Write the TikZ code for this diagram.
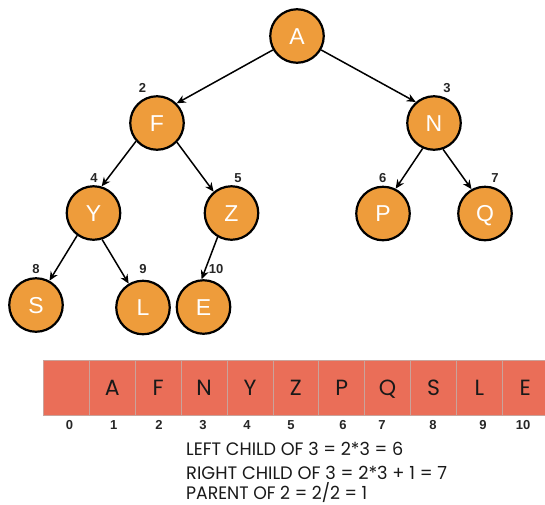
\documentclass[tikz,border=0pt]{standalone}
\usepackage{fontspec}
\setmainfont{Liberation Sans}
\newfontfamily\geo{Poppins}
\usetikzlibrary{arrows.meta}
\definecolor{orng}{HTML}{EE9C3B}
\definecolor{salm}{HTML}{EA6E58}
\definecolor{cellline}{HTML}{C9A39B}
\begin{document}
\begin{tikzpicture}[x=1pt,y=-1pt,
 treenode/.style={circle,draw=black,line width=2.2pt,fill=orng,minimum size=53.5pt,inner sep=0pt,text=white,font=\fontsize{23}{23}\selectfont,text height=16.4pt,text depth=0pt},
 idx/.style={font=\bfseries\fontsize{13}{13}\selectfont,text=black!85,inner sep=0pt},
 edgearrow/.style={line width=1.5pt,-{Stealth[length=9pt,width=8pt]}},
 cell/.style={rectangle,draw=cellline,line width=0.8pt,fill=salm,minimum width=45.9pt,minimum height=55pt,inner sep=0pt,font=\geo\fontsize{22}{22}\selectfont,text=black!90,text height=15.5pt,text depth=0pt},
 formula/.style={anchor=base west,inner sep=0pt,text=black!90}
 ]
\useasboundingbox (0,0) rectangle (545,504);
\clip (0,0) rectangle (545,504);
% tree
\node[treenode] (A) at (297,36) {A};
\node[treenode] (F) at (157,123) {F};
\node[treenode] (N) at (434,123) {N};
\node[treenode] (Y) at (93.5,213) {Y};
\node[treenode] (Z) at (231.5,213) {Z};
\node[treenode] (P) at (383,213.5) {P};
\node[treenode] (Q) at (485,213.5) {Q};
\node[treenode] (S) at (36,305) {S};
\node[treenode] (L) at (143,307.5) {L};
\node[treenode] (E) at (203.5,307) {E};
% index labels on tree
\node[idx] (l2) at (142.5,88) {2};
\node[idx] (l3) at (447,88) {3};
\node[idx] (l4) at (94,178) {4};
\node[idx] (l5) at (238,178) {5};
\node[idx] (l6) at (382.7,178) {6};
\node[idx] (l7) at (495,178) {7};
\node[idx] (l8) at (36,269) {8};
\node[idx] (l9) at (143,269) {9};
\node[idx] (l10) at (216,269) {10};
% edges
\draw[edgearrow] (A.210) -- (F.45);
\draw[edgearrow] (A.330) -- (N.131);
\draw[edgearrow] (F.221) -- (Y.73);
\draw[edgearrow] (F.316) -- (Z.130);
\draw[edgearrow] (N.246) -- (P.63);
\draw[edgearrow] (N.289) -- (Q.119);
\draw[edgearrow] (Y.234) -- (S.61);
\draw[edgearrow] (Y.288) -- (L.121);
\draw[edgearrow] (Z.240) -- (E.94);
% array
\foreach \i/\t in {0/{},1/A,2/F,3/N,4/Y,5/Z,6/P,7/Q,8/S,9/L,10/E}{
  \node[cell] (c\i) at ({43.4+45.9*(\i+0.5)},387.5) {\t};
}
% array indices
\foreach \i/\x in {0/69.5,1/113.7,2/159,3/203,4/247,5/291,6/343,7/382,8/433,9/483,10/523}{
  \node[idx] (i\i) at (\x,425) {\i};
}
% formulas
\node[formula] (t1) at (186,455.5) {\resizebox{217pt}{13.3pt}{\geo LEFT CHILD OF 3 = 2*3 = 6}};
\node[formula] (t2) at (186,479) {\resizebox{261pt}{13.3pt}{\geo RIGHT CHILD OF 3 = 2*3 + 1 = 7}};
\node[formula] (t3) at (186,499) {\resizebox{181pt}{13.3pt}{\geo PARENT OF 2 = 2\smash{/}2 = 1}};
\end{tikzpicture}
\end{document}
